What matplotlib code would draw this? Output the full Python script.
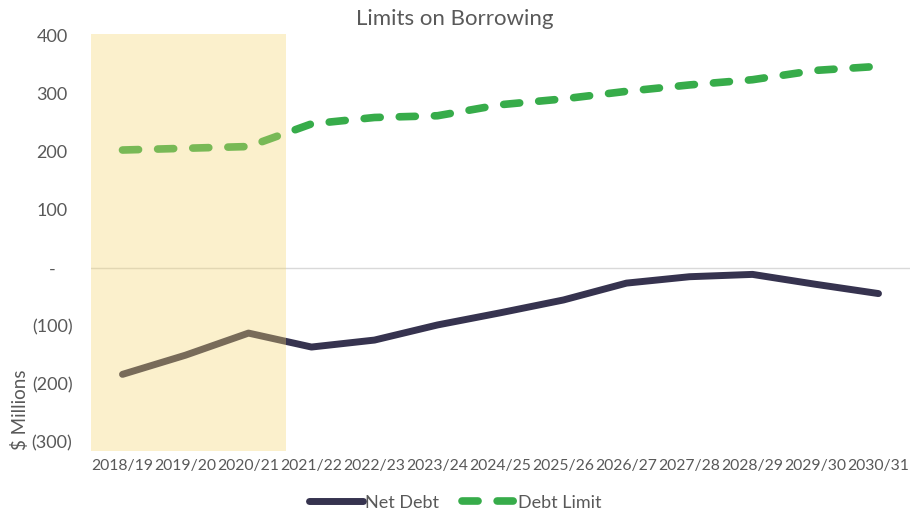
import matplotlib
matplotlib.use('Agg')
import matplotlib.pyplot as plt
from matplotlib.ticker import FuncFormatter

years = ['2018/19', '2019/20', '2020/21', '2021/22', '2022/23', '2023/24', '2024/25',
         '2025/26', '2026/27', '2027/28', '2028/29', '2029/30', '2030/31']
net_debt = [-183, -150, -112, -136, -124, -98, -77, -55, -26, -15, -11, -28, -44]
debt_limit = [203, 206, 209, 248, 259, 262, 281, 291, 304, 315, 324, 340, 347]
y_ticks = [-300, -200, -100, 0, 100, 200, 300, 400]

NAVY = '#36334f'
GREEN = '#37ac4a'
SHADE = '#f4d46d'
TEXT = '#595959'

plt.rcParams['font.family'] = ['Lato', 'DejaVu Sans']


def accounting(v, pos):
    if v == 0:
        return '-'
    if v < 0:
        return f'({abs(v):,.0f})'
    return f'{v:,.0f}'


fig = plt.figure(figsize=(9.1, 5.12), dpi=100)
ax = fig.add_axes([0.1, 0.119, 0.9, 0.815])

x = range(len(years))
ax.axhline(0, color='#d9d9d9', lw=1, zorder=1)
ax.plot(x, net_debt, color=NAVY, lw=5, solid_capstyle='round',
        solid_joinstyle='round', label='Net Debt', zorder=2)
ax.plot(x, debt_limit, color=GREEN, lw=5.5, dashes=(2.1, 2.5),
        dash_capstyle='round', label='Debt Limit', zorder=2)

# historical period shading, drawn over the lines
ax.axvspan(-0.5, 2.6, color=SHADE, alpha=0.35, lw=0, zorder=3)

ax.set_xlim(-0.5, len(years) - 0.5)
ax.set_ylim(-315, 403)
ax.set_yticks(y_ticks)
ax.yaxis.set_major_formatter(FuncFormatter(accounting))
ax.set_xticks(list(x))
ax.set_xticklabels(years)
ax.tick_params(axis='both', length=0, colors=TEXT)
ax.tick_params(axis='y', labelsize=13, pad=28)
ax.tick_params(axis='x', labelsize=11.3, pad=6)
for lbl in ax.get_yticklabels():
    lbl.set_horizontalalignment('center')
for s in ax.spines.values():
    s.set_visible(False)

fig.text(0.5, 0.963, 'Limits on Borrowing', ha='center', va='center',
         fontsize=16, color=TEXT)
fig.text(0.022, 0.2, '$ Millions', rotation=90, ha='center', va='center',
         fontsize=13.5, color=TEXT)

leg = fig.legend(loc='center', bbox_to_anchor=(0.5, 0.018), ncol=2, frameon=False,
                 fontsize=13, handlelength=3.0, handletextpad=0.1, columnspacing=1.3)
for t in leg.get_texts():
    t.set_color(TEXT)

fig.savefig('out.png', dpi=100)
